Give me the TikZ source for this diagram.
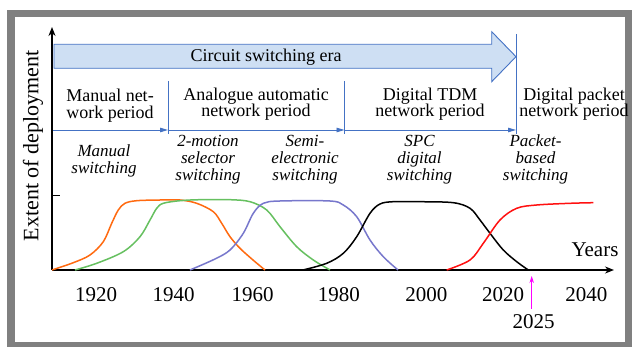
\documentclass[tikz,border=0pt]{standalone}
\usepackage{fontspec}
\setmainfont{Liberation Serif}
\usetikzlibrary{arrows.meta}
\definecolor{framegray}{HTML}{808080}
\definecolor{periodblue}{HTML}{4472C4}
\definecolor{erafill}{HTML}{CEDFF3}
\definecolor{corange}{HTML}{FF6A10}
\definecolor{cgreen}{HTML}{66C060}
\definecolor{cpurple}{HTML}{7777CC}
\definecolor{cred}{HTML}{FF1010}
\definecolor{cmagenta}{HTML}{FF00FF}
\tikzset{
  periodlabel/.style={anchor=base, align=center, inner sep=0pt, font=\rmfamily\fontsize{18}{16.6}\selectfont},
  techlabel/.style={anchor=base, align=center, inner sep=0pt, font=\rmfamily\fontsize{17}{16.8}\selectfont\itshape},
  yearlabel/.style={anchor=base, inner sep=0pt, font=\rmfamily\fontsize{21}{24}\selectfont},
  axisline/.style={line width=1.8pt, -{Stealth[length=9pt,width=7pt]}},
  periodarrow/.style={periodblue, line width=0.9pt, -{Triangle[length=8pt,width=4.5pt]}},
  periodsep/.style={periodblue, line width=0.9pt},
  curve/.style={line width=1.5pt, smooth, tension=0.55}
}
\begin{document}
\begin{tikzpicture}[x=1pt,y=-1pt]
\useasboundingbox (0,0) rectangle (632,347);
% frame
\fill[framegray] (7,10) rectangle (632,347);
\fill[white] (15,17) rectangle (625,342);

% axes
\coordinate (origin) at (52,270);
\coordinate (ytip) at (52,27);
\coordinate (xtip) at (614,270);
\coordinate (ytick) at (60,195.5);
\coordinate (ytickbase) at (52,195.5);
\draw[axisline] (origin) -- (ytip);
\draw[axisline] (origin) -- (xtip);
\draw[line width=1.2pt] (ytickbase) -- (ytick);

% era arrow
\draw[periodblue, line width=0.9pt, fill=erafill]
  (54,44.3) -- (491.7,44.3) -- (491.7,31.7) -- (516,56.7) -- (491.7,81.7) -- (491.7,68.3) -- (54,68.3) -- cycle;
\node[anchor=base, inner sep=0pt, font=\rmfamily\fontsize{18}{20}\selectfont] (era) at (266,62) {Circuit switching era};

% period separators
\coordinate (s0) at (53,130);
\coordinate (s1) at (168,130);
\coordinate (s2) at (344.5,130);
\coordinate (s3) at (516,130);
\coordinate (s1top) at (168,81);
\coordinate (s1bot) at (168,134);
\coordinate (s2top) at (344.5,81);
\coordinate (s2bot) at (344.5,134);
\coordinate (s3top) at (516,34);
\coordinate (s3bot) at (516,134);
\draw[periodsep] (s1top) -- (s1bot);
\draw[periodsep] (s2top) -- (s2bot);
\draw[periodsep] (s3top) -- (s3bot);
\draw[periodarrow] (s0) -- (s1);
\draw[periodarrow] (s1) -- (s2);
\draw[periodarrow] (s2) -- (s3);

% period labels (anchor base = last line baseline)
\node[periodlabel] (p1) at (110,118.2) {Manual net-\\work period};
\node[periodlabel] (p2) at (256,116.8) {Analogue automatic\\network period};
\node[periodlabel] (p3) at (430,116.8) {Digital TDM\\network period};
\node[periodlabel] (p4) at (574,116.8) {Digital packet\\network period};

% technology labels
\node[techlabel] (t1) at (104,173.3) {Manual\\switching};
\node[techlabel] (t2) at (208,180.5) {2-motion\\selector\\switching};
\node[techlabel] (t3) at (305,180.5) {Semi-\\electronic\\switching};
\node[techlabel] (t4) at (419.5,180.5) {SPC\\digital\\switching};
\node[techlabel] (t5) at (535.5,180.5) {Packet-\\based\\switching};

% axis labels
\node[anchor=center, rotate=90, inner sep=0pt, font=\rmfamily\fontsize{22}{24}\selectfont] (ylab) at (33,146) {Extent of deployment};
\node[yearlabel] (ylabx) at (595,256.7) {Years};

% years
\node[yearlabel] (y1920) at (96,301.7) {1920};
\node[yearlabel] (y1940) at (173.5,301.7) {1940};
\node[yearlabel] (y1960) at (252.5,301.7) {1960};
\node[yearlabel] (y1980) at (338.8,301.7) {1980};
\node[yearlabel] (y2000) at (426.3,301.7) {2000};
\node[yearlabel] (y2020) at (503,301.7) {2020};
\node[yearlabel] (y2040) at (586.3,301.7) {2040};
\node[yearlabel] (y2025) at (533.7,328.3) {2025};
\coordinate (m0) at (531.7,309);
\coordinate (m1) at (531.7,276);
\draw[cmagenta, line width=1.1pt, -{Stealth[length=7pt,width=4.5pt]}] (m0) -- (m1);

% curves
\draw[curve, corange] plot coordinates {(52,270) (73.3,262.7) (90,255) (103.3,241.7) (111.7,223.3) (118.3,210) (125,203.3) (136.7,200.7) (160,200) (180,200) (196.7,203.3) (213.3,211.7) (221.7,223.3) (230,236.7) (240,248.3) (253,260) (265,270)};
\draw[curve, cgreen] plot coordinates {(75,270) (96.7,263.3) (123.3,251.7) (140,236.7) (150,220) (156.7,208.3) (163.3,203.3) (180,200.7) (200,199.7) (230,199.7) (250,201.7) (266.7,210) (280,226.7) (296.7,246.7) (313.3,260) (330,270)};
\draw[curve, cpurple] plot coordinates {(190,270) (215,259) (230,250) (243.3,233.3) (253.3,213.3) (263.3,203.3) (280,201) (330,201) (343.3,205) (356.7,216.7) (370,240) (383.3,256.7) (398,270)};
\draw[curve, black] plot coordinates {(303,270) (326.7,263.3) (343.3,253.3) (356.7,236.7) (370,213.3) (380,204) (393.3,201.7) (420,201.7) (453.3,202.7) (470,208.3) (480,220) (490,233.3) (503.3,250) (516.7,261.7) (528.3,270)};
\draw[curve, cred] plot coordinates {(446.7,270) (470,260) (483.3,243.3) (500,220) (516.7,208.3) (536.7,205) (570,203.3) (593.3,202.7)};
\end{tikzpicture}
\end{document}
